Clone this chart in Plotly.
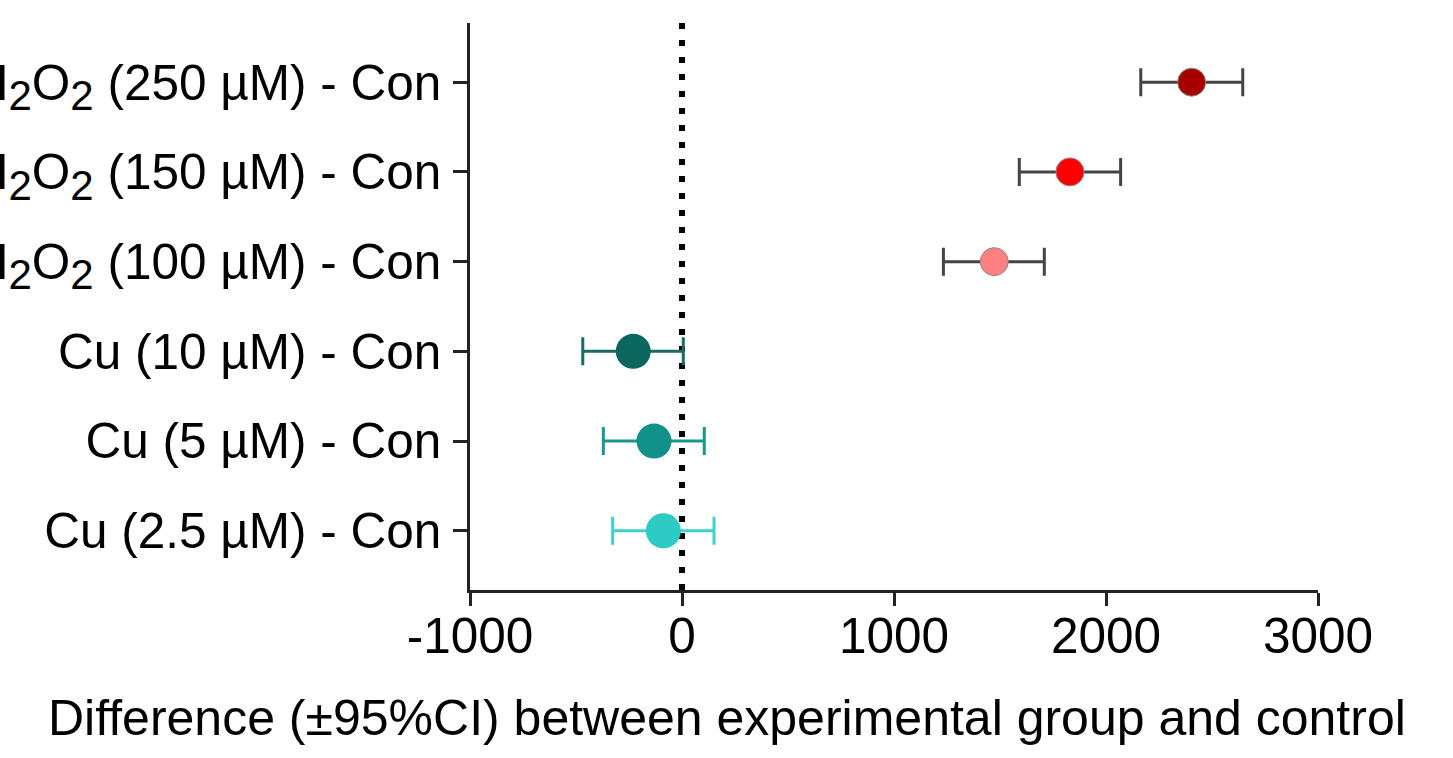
import plotly.graph_objects as go

# Data
SUB2 = "<sub><span style='font-size:42px'>2</span></sub>"
labels = [
    "Cu (2.5 µM) - Con",
    "Cu (5 µM) - Con",
    "Cu (10 µM) - Con",
    "H" + SUB2 + "O" + SUB2 + " (100 µM) - Con",
    "H" + SUB2 + "O" + SUB2 + " (150 µM) - Con",
    "H" + SUB2 + "O" + SUB2 + " (250 µM) - Con",
]
diff = [-88, -132, -230, 1473, 1830, 2404]
ci_low = [-327, -371, -468, 1233, 1591, 2164]
ci_high = [151, 105, 6, 1709, 2069, 2645]

marker_colors = ["#2ECAC4", "#12918B", "#0B665E", "#FF8080", "#FF0000", "#A80000"]
bar_colors = ["#3FD2CC", "#1A968F", "#1A6B62", "#444444", "#444444", "#444444"]
marker_sizes = [35, 35, 35, 28, 28, 28]
marker_lines = [0, 0, 0, 1, 1, 1]

x_ticks = [-1000, 0, 1000, 2000, 3000]

FONT = "Liberation Sans, Arial, sans-serif"

fig = go.Figure()
for i, lab in enumerate(labels):
    fig.add_trace(go.Scatter(
        x=[diff[i]], y=[lab], mode="markers",
        marker=dict(size=marker_sizes[i], color=marker_colors[i],
                    line=dict(width=marker_lines[i], color="#888888")),
        error_x=dict(type="data", symmetric=False,
                     array=[ci_high[i] - diff[i]],
                     arrayminus=[diff[i] - ci_low[i]],
                     color=bar_colors[i], thickness=3, width=14),
        showlegend=False, cliponaxis=False,
    ))

# Dotted reference line at zero
fig.add_shape(type="line", xref="x", yref="paper", x0=0, x1=0, y0=0, y1=1,
              line=dict(color="black", width=6, dash="6px,11px"), layer="below")

fig.add_annotation(
    text="Difference (±95%CI) between experimental group and control",
    xref="paper", yref="paper", x=0.303, y=-0.226, xanchor="center", yanchor="middle",
    showarrow=False, font=dict(family=FONT, size=50, color="black"))

fig.update_layout(
    width=1453, height=758,
    margin=dict(l=470, r=135, t=23, b=168, autoexpand=False),
    paper_bgcolor="white", plot_bgcolor="white",
    font=dict(family=FONT, size=49.5, color="black"),
)
fig.update_xaxes(
    range=[-1000, 3000], tickvals=x_ticks, ticktext=[str(v) for v in x_ticks],
    showgrid=False, zeroline=False, showline=True, linecolor="#222222", linewidth=2.5,
    ticks="outside", ticklen=13, tickwidth=2.5, tickcolor="#222222",
    tickfont=dict(family=FONT, size=49.5, color="black"), automargin=False,
    ticklabelstandoff=-12,
)
fig.update_yaxes(
    type="category", categoryorder="array", categoryarray=labels,
    range=[-0.66, 5.66],
    showgrid=False, zeroline=False, showline=True, linecolor="#222222", linewidth=2.5,
    ticks="outside", ticklen=14, tickwidth=2.5, tickcolor="#222222",
    tickfont=dict(family=FONT, size=49.5, color="black"), automargin=False,
    ticklabelstandoff=2,
)

fig.write_html("out.html")
